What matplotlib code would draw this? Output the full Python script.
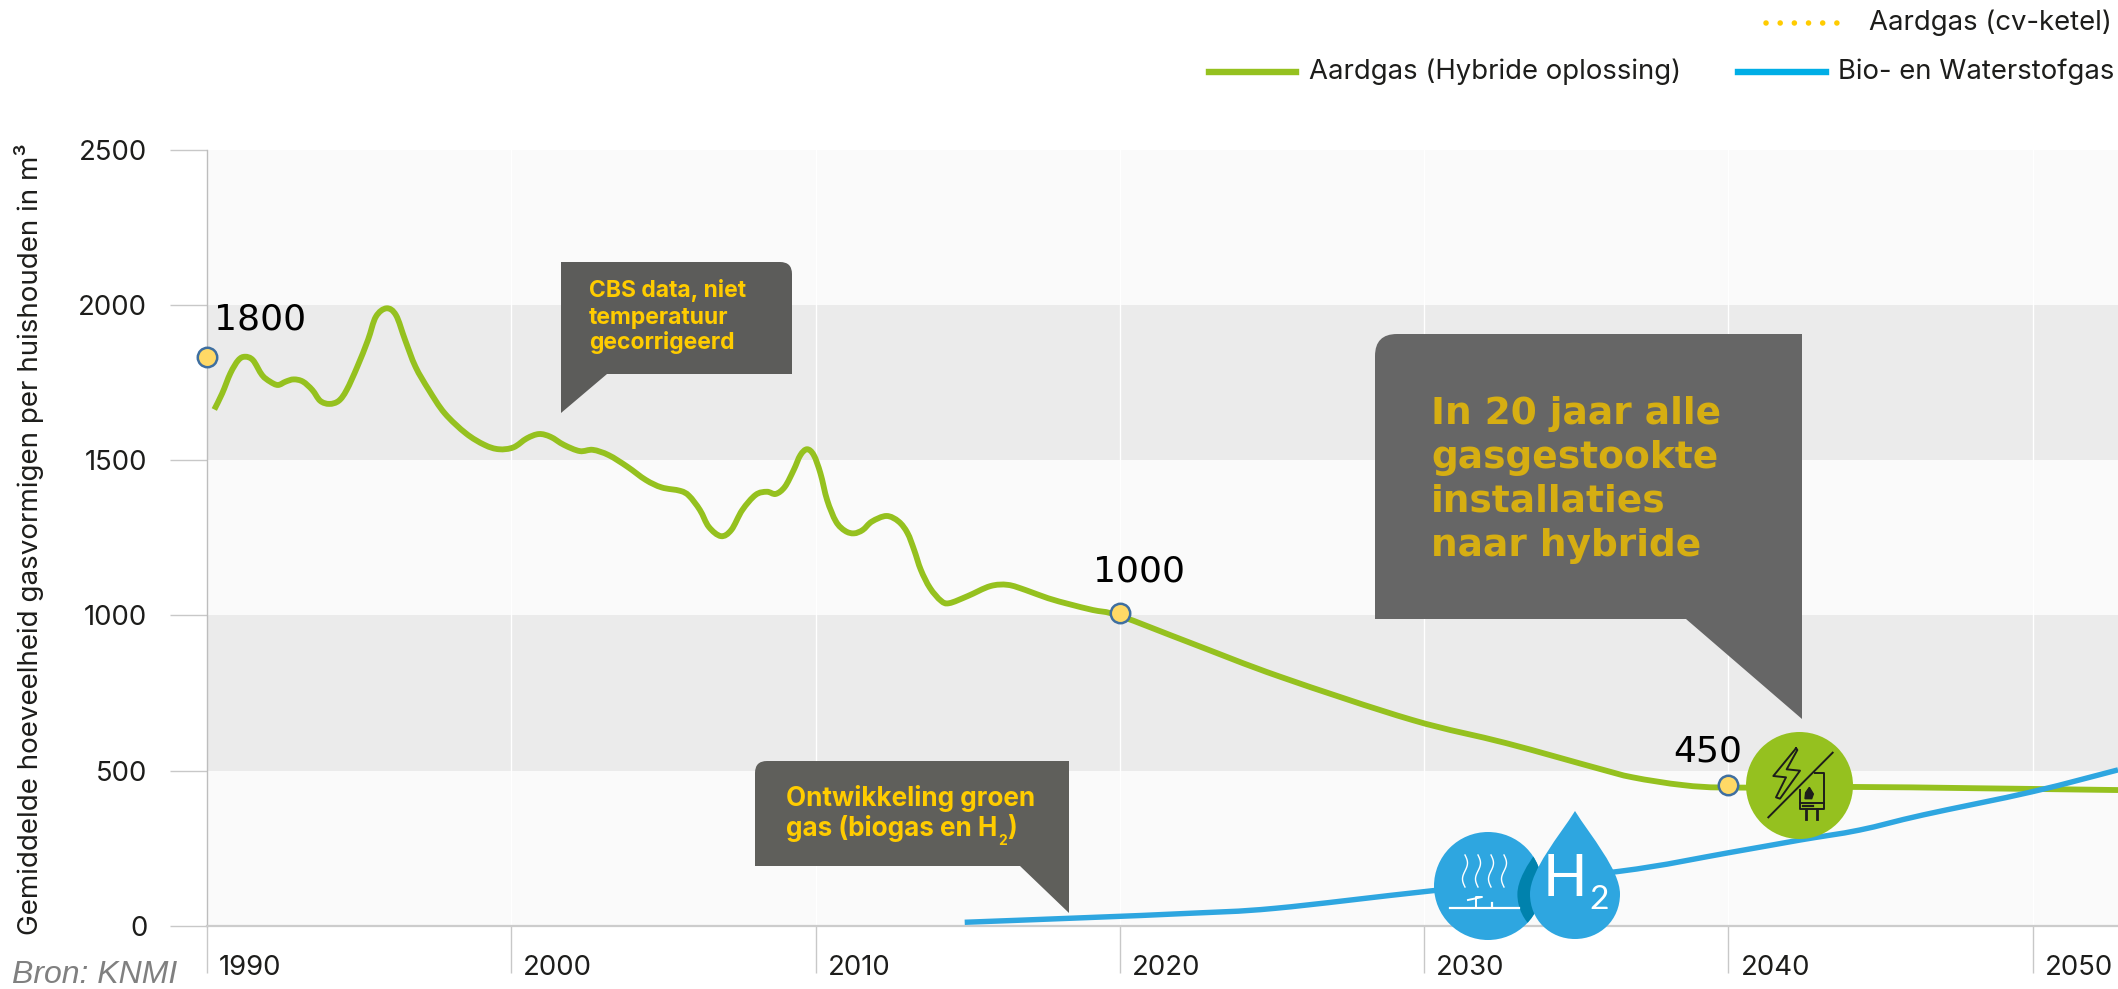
import numpy as np
import matplotlib
matplotlib.use("Agg")
import matplotlib.pyplot as plt
from matplotlib.lines import Line2D
from matplotlib.patches import Circle, PathPatch
from matplotlib.path import Path
from matplotlib.transforms import Affine2D, ScaledTranslation

W, H = 2118, 989

# waarden
groen_jaar = [1990.24, 1990.5, 1990.77, 1991.03, 1991.25, 1991.51, 1991.81, 1992.07, 1992.33, 1992.59,
              1992.85, 1993.15, 1993.46, 1993.72, 1994.02, 1994.33, 1994.59, 1994.94, 1995.29, 1995.55,
              1995.9, 1996.21, 1996.51, 1996.85, 1997.29, 1997.81, 1998.51, 1999.12, 1999.59, 2000.07,
              2000.51, 2000.91, 2001.29, 2001.73, 2002.25, 2002.68, 2003.2, 2003.81, 2004.42, 2004.94,
              2005.55, 2005.84, 2006.2, 2006.49, 2006.89, 2007.23, 2007.59, 2008.03, 2008.4, 2008.69, 2008.99,
              2009.28, 2009.5, 2009.72, 2009.94, 2010.16, 2010.38, 2010.67, 2010.97, 2011.26, 2011.55,
              2011.85, 2012.33, 2012.73, 2013.02, 2013.24, 2013.46, 2013.76, 2014.12, 2014.39, 2015.0,
              2015.74, 2016.32, 2016.91, 2017.64, 2018.37, 2019.11, 2020.0, 2022.35, 2025.27, 2029.6,
              2032.7, 2035.7, 2036.85, 2038.5, 2040.0, 2044.1, 2048.03, 2052.8]
groen_m3 = [1663, 1715, 1780, 1822, 1833, 1822, 1774, 1753, 1742, 1753,
            1760, 1753, 1726, 1691, 1681, 1691, 1726, 1801, 1887, 1962,
            1989, 1967, 1887, 1801, 1726, 1651, 1586, 1549, 1535, 1541,
            1570, 1584, 1575, 1549, 1529, 1533, 1516, 1479, 1436, 1412,
            1401, 1385, 1339, 1285, 1255, 1275, 1339, 1388, 1398, 1391, 1414,
            1468, 1516, 1535, 1516, 1457, 1371, 1302, 1272, 1264, 1275,
            1302, 1320, 1302, 1265, 1210, 1146, 1088, 1047, 1039, 1062,
            1094, 1098, 1081, 1055, 1035, 1017, 998, 910, 802, 663,
            588, 507, 478, 453, 445, 447, 443, 437]
blauw_jaar = [2014.9, 2018.9, 2022.3, 2025.1, 2030.3, 2036.4, 2040.0, 2042.35, 2044.3, 2046.4, 2050.0, 2052.8]
blauw_m3 = [11, 26, 40, 56, 113, 175, 235, 276, 308, 357, 432, 502]
punt_jaar = [1990, 2020, 2040]
punt_m3 = [1832, 1008, 452]
punt_tekst = ["1800", "1000", "450"]
y_ticks = [0, 500, 1000, 1500, 2000, 2500]
x_ticks = [1990, 2000, 2010, 2020, 2030, 2040, 2050]

GROEN = "#95c11f"
BLAUW = "#2ea6e0"
GEEL = "#ffcc00"
FONT = "Inter"

fig = plt.figure(figsize=(W / 100, H / 100), dpi=100, facecolor="white")
ax = fig.add_axes([207 / W, 1 - 925.7 / H, (W - 207) / W, 776 / H])
pix = Affine2D().scale(1 / W, -1 / H).translate(0, 1) + fig.transFigure

ax.set_xlim(1990, 1990 + (W - 207) / 30.43)
ax.set_ylim(0, 2500)
ax.set_facecolor("#fafafa")
for i in range(len(y_ticks) - 1):
    kleur = "#ebebeb" if i % 2 == 1 else "#fafafa"
    ax.axhspan(y_ticks[i], y_ticks[i + 1], color=kleur, lw=0, zorder=0)
for j in x_ticks[1:]:
    ax.axvline(j, color="white", lw=1, zorder=1)

for s in ["top", "right"]:
    ax.spines[s].set_visible(False)
ax.spines["left"].set_color("#bdbdbd")
ax.spines["left"].set_linewidth(1)
ax.spines["bottom"].set_color("#cccccc")
ax.spines["bottom"].set_linewidth(1.6)

ax.set_yticks(y_ticks)
ax.set_xticks(x_ticks)
ax.tick_params(axis="y", length=27, width=1, color="#c8c8c8", pad=16, labelsize=19.8, labelcolor="#1d1d1b")
ax.tick_params(axis="x", length=34, width=1, color="#c8c8c8", pad=-13, labelsize=19.8, labelcolor="#1d1d1b")
for l in ax.get_yticklabels():
    l.set_family(FONT)
for l in ax.get_xticklabels():
    l.set_family(FONT)
    l.set_ha("left")
    l.set_transform(l.get_transform() + ScaledTranslation(0.12, 0, fig.dpi_scale_trans))


def vloeiend(x, y, kleur, lw):
    x, y = np.array(x), np.array(y)
    n = len(x)
    p = [(x[0], y[0])]
    for i in range(n - 1):
        a, b = max(i - 1, 0), min(i + 2, n - 1)
        p.append((x[i] + (x[i + 1] - x[a]) / 6, y[i] + (y[i + 1] - y[a]) / 6))
        p.append((x[i + 1] - (x[b] - x[i]) / 6, y[i + 1] - (y[b] - y[i]) / 6))
        p.append((x[i + 1], y[i + 1]))
    codes = [Path.MOVETO] + [Path.CURVE4] * (len(p) - 1)
    ax.add_patch(PathPatch(Path(p, codes), fill=False, ec=kleur, lw=lw, joinstyle="round", capstyle="butt", zorder=3))


vloeiend(groen_jaar, groen_m3, GROEN, 4.2)
vloeiend(blauw_jaar, blauw_m3, BLAUW, 3.9)
ax.plot(punt_jaar, punt_m3, ls="none", marker="o", ms=14, mfc="#ffd966", mec="#3f6fa0", mew=1.8,
        clip_on=False, zorder=5)

for t, x, y in zip(punt_tekst, [214, 1093, 1673], [319, 571, 752]):
    ax.text(x, y, t, transform=pix, fontsize=26, color="black", family="DejaVu Sans",
            ha="left", va="center", zorder=6)


def ballon(punten, kleur, z=7):
    # punten in pixels, (x, y, code)
    codes = [p[2] for p in punten]
    pad = Path([(p[0], p[1]) for p in punten], codes)
    ax.add_patch(PathPatch(pad, transform=pix, fc=kleur, ec="none", clip_on=False, zorder=z))


M, L, Q, C = Path.MOVETO, Path.LINETO, Path.CURVE3, Path.CLOSEPOLY
ballon([(561, 262, M), (780, 262, L), (792, 262, Q), (792, 274, Q), (792, 374, L), (607, 374, L),
        (561, 413, L), (561, 262, C)], "#5c5c5a")
ballon([(767, 761, M), (1069, 761, L), (1069, 913, L), (1020, 866, L), (755, 866, L), (755, 773, L),
        (755, 761, Q), (767, 761, Q), (767, 761, C)], "#5f5f5b")
ballon([(1397, 334, M), (1802, 334, L), (1802, 719, L), (1686, 619, L), (1375, 619, L), (1375, 356, L),
        (1375, 334, Q), (1397, 334, Q), (1397, 334, C)], "#666666", z=8)

for t, y in zip(["CBS data, niet", "temperatuur", "gecorrigeerd"], [291, 318, 343]):
    ax.text(589, y, t, transform=pix, fontsize=16.5, color=GEEL, family=FONT, weight="bold",
            va="center", zorder=9)
ax.text(786, 798, "Ontwikkeling groen", transform=pix, fontsize=18.8, color=GEEL, family=FONT,
        weight="bold", va="center", zorder=9)
stuk = ax.text(786, 828, "gas (biogas en H", transform=pix, fontsize=18.8, color=GEEL, family=FONT,
               weight="bold", va="center", zorder=9)
rechts = stuk.get_window_extent(fig.canvas.get_renderer()).x1
ax.text(rechts + 1, 841, "2", transform=pix, fontsize=10, color=GEEL, family=FONT, weight="bold",
        va="center", zorder=9)
ax.text(rechts + 10, 828, ")", transform=pix, fontsize=18.8, color=GEEL, family=FONT, weight="bold",
        va="center", zorder=9)
for t, y in zip(["In 20 jaar alle", "gasgestookte", "installaties", "naar hybride"], [414, 458, 501, 546]):
    ax.text(1431, y, t, transform=pix, fontsize=27, color="#d6ae12", family="DejaVu Sans", weight="bold",
            va="center", zorder=9)

# icoon waterstof
cirkel = Circle((1488, 886), 54, transform=pix, fc=BLAUW, ec="none", clip_on=False, zorder=4)
ax.add_patch(cirkel)
druppel = Path([(1575, 811), (1590, 835), (1620, 870), (1620, 894), (1620, 920), (1600, 939), (1575, 939),
                (1550, 939), (1530, 920), (1530, 894), (1530, 870), (1560, 835), (1575, 811)],
               [M] + [Path.CURVE4] * 12)
donker = PathPatch(druppel, transform=Affine2D().translate(-1575, -894).scale(1.28, 1.1).translate(1575, 894) + pix,
                   fc="#0082ad", ec="none", zorder=4.1)
ax.add_patch(donker)
donker.set_clip_path(cirkel)
ax.add_patch(PathPatch(druppel, transform=pix, fc=BLAUW, ec="none", clip_on=False, zorder=4.2))
ax.text(1565, 879, "H", transform=pix, fontsize=42, color="white", family="Lato",
        ha="center", va="center", zorder=4.3)
ax.text(1599, 900, "2", transform=pix, fontsize=24, color="white", family="Lato",
        ha="center", va="center", zorder=4.3)
golf_y = np.linspace(855, 887, 30)
for x0 in [1465, 1478, 1491, 1504]:
    ax.plot(x0 + 2.5 * np.sin((golf_y - 855) / 32 * 2 * np.pi), golf_y, color="white", lw=1, transform=pix,
            clip_on=False, zorder=4.3)
ax.plot([1450, 1519], [908, 908], color="white", lw=1.6, transform=pix, clip_on=False, zorder=4.3)
ax.plot([1468, 1482, 1476, 1476], [900, 897, 897, 907], color="white", lw=1.4, transform=pix, clip_on=False, zorder=4.3)
ax.plot([1492, 1492], [903, 907], color="white", lw=1.6, transform=pix, clip_on=False, zorder=4.3)

# icoon hybride
ax.add_patch(Circle((1799.5, 785.5), 53.5, transform=pix, fc=GROEN, ec="none", clip_on=False, zorder=6))


def z4(x, y):
    return 1640 + np.array(x) / 3, 700 + np.array(y) / 3


def icoonlijn(x, y, lw=1.4):
    px, py = z4(x, y)
    ax.plot(px, py, color="#1d1d1b", lw=lw, transform=pix, clip_on=False, zorder=6.5)


icoonlijn([468, 400, 438, 408, 420, 480, 440, 472, 468], [145, 228, 232, 292, 296, 212, 208, 150, 145])
icoonlijn([385, 578], [352, 158])
icoonlijn([525, 553, 553, 480, 480], [218, 218, 328, 328, 270])
icoonlijn([480, 553], [308, 308])
icoonlijn([490, 520], [318, 318], 1.6)
icoonlijn([498, 498], [328, 358], 2)
icoonlijn([530, 530], [328, 358], 2)
vx, vy = z4([508, 520, 515, 495, 497, 508], [262, 282, 296, 296, 278, 262])
ax.fill(vx, vy, color="#1d1d1b", transform=pix, clip_on=False, zorder=6.5)

# legenda
fig.add_artist(Line2D([1766, 1851], [23, 23], transform=pix, color=GEEL, lw=4,
                      ls=(0, (0.01, 2.54)), dash_capstyle="round"))
fig.add_artist(Line2D([1209, 1296], [72, 72], transform=pix, color=GROEN, lw=4.6))
fig.add_artist(Line2D([1738, 1826], [72, 72], transform=pix, color="#00aee6", lw=4.6))
for t, x, y in [("Aardgas (cv-ketel)", 1869, 23), ("Aardgas (Hybride oplossing)", 1309, 72),
                ("Bio- en Waterstofgas", 1838, 72)]:
    fig.text(x, y, t, transform=pix, fontsize=19.8, color="#1d1d1b", family=FONT, va="center")

fig.text(29, 539, "Gemiddelde hoeveelheid gasvormigen per huishouden in m\u00b3", transform=pix, rotation=90,
         fontsize=20, color="#1d1d1b", family=FONT, ha="center", va="center")
fig.text(12, 975, "Bron: KNMI", transform=pix, fontsize=23, color="#808080", family="Liberation Sans",
         style="italic", va="center")

fig.savefig("out.png", dpi=100)
